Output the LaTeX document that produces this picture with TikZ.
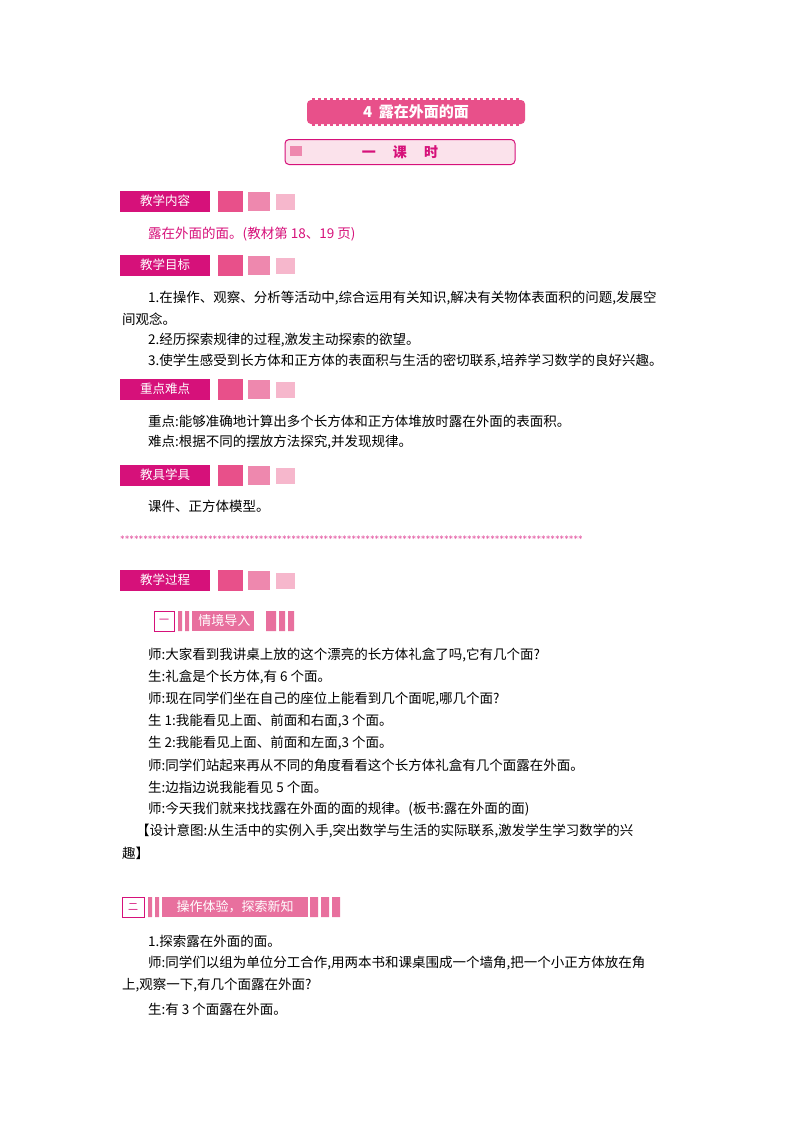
\documentclass[tikz,border=0pt]{standalone}
\usepackage{fontspec}
\newfontfamily\cjk{Noto Sans CJK SC}
\definecolor{mag}{HTML}{D6117A}
\definecolor{pk1}{HTML}{E8508A}
\definecolor{pk2}{HTML}{EE88AE}
\definecolor{pk3}{HTML}{F6B7CC}
\definecolor{sec}{HTML}{E8709E}
\begin{document}
\begin{tikzpicture}[x=1pt,y=-1pt,
 body/.style={anchor=west,inner sep=0,font=\cjk\fontsize{13.5}{14}\selectfont},
 hdr/.style={fill=mag,text=white,inner sep=0,minimum width=90,minimum height=21,anchor=west,font=\cjk\fontsize{12.5}{13}\selectfont},
 sq/.style={inner sep=0,anchor=west}]
\useasboundingbox (0,0) rectangle (800,1132);
% title
\node[fill=pk1,rounded corners=4,minimum width=218,minimum height=24,inner sep=0,text=white,font=\cjk\bfseries\fontsize{15}{15}\selectfont] (t) at (416,112) {4\ \ 露在外面的面};
\draw[pk1,dashed,line width=1.2] (312,99)--(520,99) (312,125)--(520,125);
\node[draw=mag,line width=1,fill=pk3!40,rounded corners=4,minimum width=230,minimum height=25,inner sep=0,text=mag,font=\cjk\bfseries\fontsize{14}{14}\selectfont] (st) at (400,152) {一\quad\ 课\quad\ 时};
\fill[pk2] (290,146) rectangle (302,156);
% headers
\newcommand{\hdrbox}[3]{%
\node[hdr] (#1) at (120,#2) {#3};
\node[sq,fill=pk1,minimum width=25,minimum height=21] (#1a) at (218,#2) {};
\node[sq,fill=pk2,minimum width=22,minimum height=19] (#1b) at (248,#2) {};
\node[sq,fill=pk3,minimum width=19,minimum height=16] (#1c) at (276,#2+1) {};}
\hdrbox{h1}{201}{教学内容}
\hdrbox{h2}{265}{教学目标}
\hdrbox{h3}{389}{重点难点}
\hdrbox{h4}{475}{教具学具}
\hdrbox{h5}{580}{教学过程}
\node[body,text=mag] (c1) at (148,234) {露在外面的面。(教材第 18、19 页)};
\node[body] (a1) at (148,298) {1.在操作、观察、分析等活动中,综合运用有关知识,解决有关物体表面积的问题,发展空};
\node[body] (a2) at (122,319) {间观念。};
\node[body] (a3) at (148,340) {2.经历探索规律的过程,激发主动探索的欲望。};
\node[body] (a4) at (148,361) {3.使学生感受到长方体和正方体的表面积与生活的密切联系,培养学习数学的良好兴趣。};
\node[body] (b1) at (148,421) {重点:能够准确地计算出多个长方体和正方体堆放时露在外面的表面积。};
\node[body] (b2) at (148,442) {难点:根据不同的摆放方法探究,并发现规律。};
\node[body] (d1) at (148,506) {课件、正方体模型。};
\node[inner sep=0,anchor=west,text=mag,font=\fontsize{9}{9}\selectfont] (stars) at (120,539) {\foreach \i in {1,...,100}{*}};
% section 1
\node[draw=mag,fill=white,inner sep=0,minimum width=20,minimum height=20,anchor=west] (s1n) at (154,621) {\cjk\color{mag}一};
\fill[sec] (178,611) rectangle (182,631) (185,611) rectangle (189,631);
\node[fill=sec,text=white,inner sep=0,minimum width=62,minimum height=20,anchor=west,font=\cjk\fontsize{13}{13}\selectfont] (s1) at (192,621) {\,情境导入};
\fill[sec] (266,611) rectangle (276,631) (279,611) rectangle (285,631) (288,611) rectangle (294,631);
\node[body] (e1) at (148,655) {师:大家看到我讲桌上放的这个漂亮的长方体礼盒了吗,它有几个面?};
\node[body] (e2) at (148,677) {生:礼盒是个长方体,有 6 个面。};
\node[body] (e3) at (148,699) {师:现在同学们坐在自己的座位上能看到几个面呢,哪几个面?};
\node[body] (e4) at (148,721) {生 1:我能看见上面、前面和右面,3 个面。};
\node[body] (e5) at (148,743) {生 2:我能看见上面、前面和左面,3 个面。};
\node[body] (e6) at (148,765) {师:同学们站起来再从不同的角度看看这个长方体礼盒有几个面露在外面。};
\node[body] (e7) at (148,787) {生:边指边说我能看见 5 个面。};
\node[body] (e8) at (148,809) {师:今天我们就来找找露在外面的面的规律。(板书:露在外面的面)};
\node[body] (e9) at (136,831) {【设计意图:从生活中的实例入手,突出数学与生活的实际联系,激发学生学习数学的兴};
\node[body] (e10) at (122,853) {趣】};
% section 2
\node[draw=mag,fill=white,inner sep=0,minimum width=22,minimum height=20,anchor=west] (s2n) at (122,907) {\cjk\color{mag}二};
\fill[sec] (148,897) rectangle (152,917) (155,897) rectangle (159,917);
\node[fill=sec,text=white,inner sep=0,minimum width=146,minimum height=20,anchor=west,font=\cjk\fontsize{13}{13}\selectfont] (s2) at (162,907) {操作体验，探索新知};
\fill[sec] (310,897) rectangle (318,917) (321,897) rectangle (329,917) (332,897) rectangle (340,917);
\node[body] (f1) at (148,941) {1.探索露在外面的面。};
\node[body] (f2) at (148,963) {师:同学们以组为单位分工合作,用两本书和课桌围成一个墙角,把一个小正方体放在角};
\node[body] (f3) at (122,985) {上,观察一下,有几个面露在外面?};
\node[body] (f4) at (148,1009) {生:有 3 个面露在外面。};
\end{tikzpicture}
\end{document}
